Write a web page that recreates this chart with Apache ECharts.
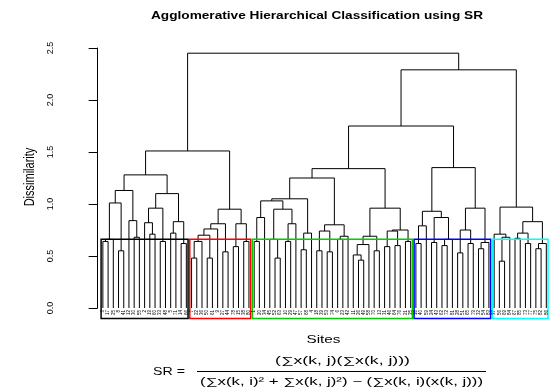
<!DOCTYPE html>
<html>
<head>
<meta charset="utf-8">
<script src="https://cdn.jsdelivr.net/npm/echarts@6/dist/echarts.min.js"></script>
</head>
<body style="margin: 0">
<div id="container" style="width: 551px; height: 387px"></div>
<script type="text/javascript">
    // merge heights above the five boxed clusters: root, right, middle, left
    var topHeights = [2.45, 2.29, 1.75, 1.51];
    // node = [height, left, right], leaf = site label
    var clusterBlack = [1.28,
        [1.13, [1.01, [0.66, [0.64, '3', '17'], '25'], [0.55, '8', '41']], [0.84, '12', [0.68, '30', '55']]],
        [1.10, [0.96, [0.82, '2', [0.71, '19', '60']], [0.64, '33', '48']], [0.83, [0.72, '5', '71'], [0.62, '14', '66']]]];
    var clusterRed = [0.95,
        [0.81, [0.76, [0.70, [0.64, [0.48, '7', '22'], '36'], [0.48, '50', '61']], '9'], [0.54, '27', '44']],
        [0.81, [0.59, '78', '15'], [0.64, '38', '80']]];
    var greenHeight = 1.34;
    var clusterGreenA = [1.25,
        [1.05, [1.03, [0.87, [0.64, '1', '20'], '34'], [0.95, [0.66, '45', [0.48, '52', '63']], [0.81, [0.64, '10', '29'], '47']]],
            [0.72, [0.56, '57', '68'], '4']],
        [0.80, [0.74, [0.55, '18', '39'], [0.54, '53', '74']], [0.69, [0.66, '6', '23'], '42']]];
    var clusterGreenB = [0.96,
        [0.69, [0.61, [0.51, '11', [0.46, '26', '49']], '58'], [0.55, '70', '13']],
        [0.75, [0.74, [0.59, '31', '46'], [0.60, '64', '76']], [0.64, '21', '35']]];
    var clusterBlue = [1.35,
        [0.93, [0.79, [0.62, '16', '40'], '59'], [0.87, [0.63, '24', '43'], [0.66, [0.60, '62', '72'], '81']]],
        [0.96, [0.75, [0.53, '28', '51'], [0.62, '65', '79']], [0.63, [0.57, '32', '54'], '83']]];
    var clusterCyan = [0.97,
        [0.71, '37', [0.68, [0.45, '56', '69'], '84']],
        [0.83, [0.72, [0.67, '67', '85'], [0.62, '73', '77']], [0.62, [0.57, '75', '82'], '86']]];
    var boxColors = ['#000000', '#FF0000', '#00CD00', '#0000FF', '#00FFFF'];
    var cutHeight = 0.66;

    var clusters = [clusterBlack, clusterRed, [greenHeight, clusterGreenA, clusterGreenB], clusterBlue, clusterCyan];
    var tree = [topHeights[0],
        [topHeights[3], clusters[0], clusters[1]],
        [topHeights[1], [topHeights[2], clusters[2], clusters[3]], clusters[4]]];

    var links = [];
    var leaves = [];
    function layout(node) {
        if (typeof node === 'string') {
            leaves.push([leaves.length + 1, 0, node]);
            return {x: leaves.length, h: 0};
        }
        var a = layout(node[1]);
        var b = layout(node[2]);
        links.push([a.x, b.x, a.h, b.h, node[0]]);
        return {x: (a.x + b.x) / 2, h: node[0]};
    }
    layout(tree);

    function countLeaves(node) {
        if (typeof node === 'string') return 1;
        return countLeaves(node[1]) + countLeaves(node[2]);
    }
    var boxes = [];
    var start = 1;
    clusters.forEach(function (c, i) {
        var n = countLeaves(c);
        boxes.push([start - 0.34, start + n - 1 + 0.33, cutHeight, -0.1, i]);
        start += n;
    });

    // the picture's text is wider than plain Helvetica, stretch it to the measured widths
    var fontFamily = '"Liberation Sans", Arial, sans-serif';
    var ctx = document.createElement('canvas').getContext('2d');
    function stretch(text, font, width) {
        ctx.font = font;
        return width / ctx.measureText(text).width;
    }
    function label(text, x, y, size, width, align, bold) {
        var font = (bold ? 'bold ' : '') + size + 'px ' + fontFamily;
        return {
            type: 'text', x: x, y: y, scaleX: stretch(text, font, width),
            style: {text: text, font: font, fill: '#000', align: align, verticalAlign: 'middle'}
        };
    }
    var numerator = '(\u2211x(k, j)(\u2211x(k, j)))';
    var denominator = '(\u2211x(k, i)\u00B2 + \u2211x(k, j)\u00B2) \u2212 (\u2211x(k, i)(x(k, j)))';

    var dom = document.getElementById('container');
    var myChart = echarts.init(dom);
    var option = {
        animation: false,
        backgroundColor: '#fff',
        grid: {left: 82, right: 0, top: 48, bottom: 79},
        xAxis: {type: 'value', min: -3, max: 86.9, show: false},
        yAxis: {
            type: 'value', min: 0, max: 2.5, interval: 0.5,
            axisLine: {show: true, lineStyle: {color: '#000', width: 1}},
            axisTick: {show: true, length: 9, lineStyle: {color: '#000'}},
            axisLabel: {
                rotate: 90, margin: 27, fontSize: 9, color: '#000', fontFamily: fontFamily,
                formatter: function (v) { return v.toFixed(1); }
            },
            splitLine: {show: false}
        },
        graphic: [
            label('Agglomerative Hierarchical Classification using SR', 317, 16, 10, 332, 'center', true),
            label('Sites', 323.5, 340, 10.5, 34, 'center'),
            label('SR =', 153, 372, 10.5, 32, 'left'),
            label(numerator, 342.5, 361, 10.5, 135, 'center'),
            label(denominator, 341.5, 382, 10.5, 283, 'center'),
            {type: 'line', shape: {x1: 197, y1: 371.5, x2: 486, y2: 371.5}, style: {stroke: '#000', lineWidth: 1}},
            {
                type: 'text', x: 30, y: 177, rotation: Math.PI / 2, scaleY: 1.25,
                style: {text: 'Dissimilarity', font: '11px ' + fontFamily, fill: '#000', align: 'center', verticalAlign: 'middle'}
            }
        ],
        series: [{
            type: 'custom',
            data: links,
            renderItem: function (params, api) {
                var pts = [
                    api.coord([api.value(0), api.value(2)]),
                    api.coord([api.value(0), api.value(4)]),
                    api.coord([api.value(1), api.value(4)]),
                    api.coord([api.value(1), api.value(3)])
                ];
                return {type: 'polyline', shape: {points: pts}, style: {stroke: '#000', lineWidth: 1, fill: null}};
            }
        }, {
            type: 'custom',
            data: boxes,
            renderItem: function (params, api) {
                var a = api.coord([api.value(0), api.value(2)]);
                var b = api.coord([api.value(1), api.value(3)]);
                return {
                    type: 'rect',
                    shape: {x: a[0], y: a[1], width: b[0] - a[0], height: b[1] - a[1]},
                    style: {stroke: boxColors[api.value(4)], lineWidth: 1.5, fill: null}
                };
            }
        }, {
            type: 'custom',
            data: leaves,
            renderItem: function (params, api) {
                var p = api.coord([api.value(0), api.value(1)]);
                return {
                    type: 'text', x: p[0], y: p[1] + 2, rotation: Math.PI / 2,
                    style: {
                        text: leaves[params.dataIndex][2], font: '4.5px ' + fontFamily, fill: '#000',
                        align: 'right', verticalAlign: 'middle'
                    }
                };
            }
        }]
    };
    myChart.setOption(option);
</script>
</body>
</html>
